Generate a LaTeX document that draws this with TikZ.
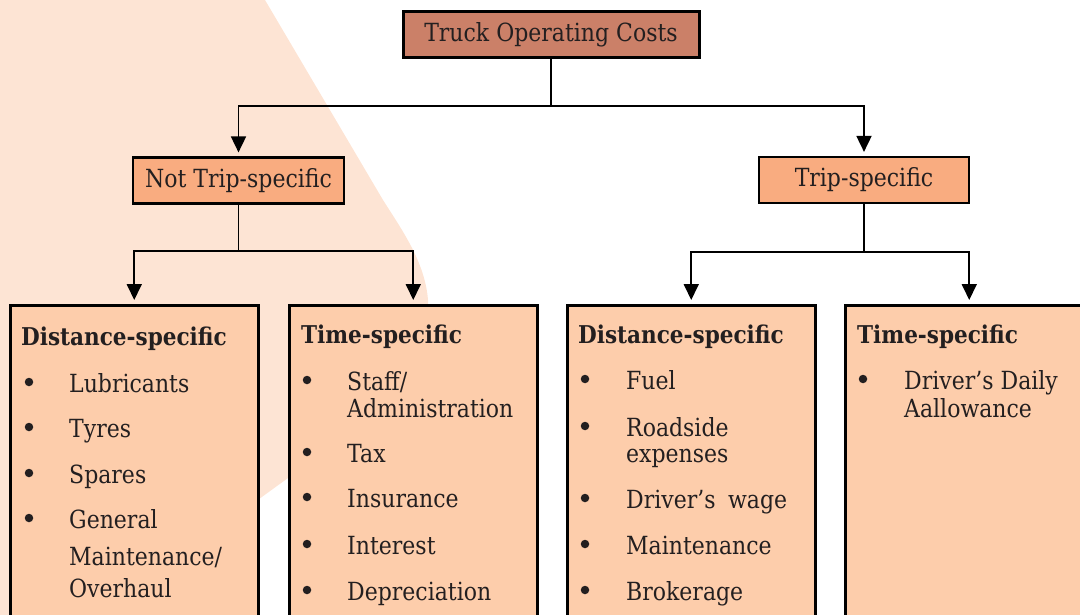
\documentclass[tikz,border=0pt]{standalone}
\usepackage{fontspec}
\setmainfont{DejaVu Serif}[FakeStretch=0.88]
\usetikzlibrary{arrows.meta}
\definecolor{bgpeach}{HTML}{FDE4D4}
\definecolor{topfill}{HTML}{CB8068}
\definecolor{midfill}{HTML}{F9AC80}
\definecolor{boxfill}{HTML}{FDCDAB}
\definecolor{ink}{HTML}{231F20}
\begin{document}
\begin{tikzpicture}[x=1pt,y=-1pt,
  conn/.style={line width=1.8pt, draw=black},
  arr/.style={conn, -{Triangle[width=15pt,length=16pt]}, shorten >=4pt},
  topbox/.style={draw=black, line width=3pt, fill=topfill, inner sep=0pt,
    minimum width=296pt, minimum height=46pt, text=ink, font=\fontsize{25}{30}\selectfont},
  midbox/.style={draw=black, line width=2.2pt, fill=midfill, inner sep=0pt,
    minimum width=210pt, minimum height=46pt, text=ink, font=\fontsize{25}{30}\selectfont},
  listbox/.style={draw=black, line width=2.5pt, fill=boxfill, inner sep=0pt,
    minimum width=248pt, minimum height=336pt, anchor=north west},
  head/.style={anchor=base west, inner sep=0pt, text=ink, font=\bfseries\fontsize{24.5}{29}\selectfont},
  item/.style={anchor=base west, inner sep=0pt, text=ink, font=\fontsize{25}{30}\selectfont},
  bul/.style={circle, fill=ink, inner sep=0pt, minimum size=8.5pt},
]
\useasboundingbox (0,0) rectangle (1080,615);
\clip (0,0) rectangle (1080,615);
% background shape
\fill[bgpeach] (0,0) -- (265,0) -- (383,200) .. controls (402,230) and (425,262) .. (428,300)
  -- (430,375) -- (0,687) -- cycle;

% boxes
\node[topbox] (top) at (551,35) {\raisebox{-3pt}{Truck Operating Costs}};
\node[midbox, minimum width=211pt] (ntp) at (238.5,180.5) {\raisebox{-3pt}{Not Trip-specific}};
\node[midbox] (tp) at (864,180) {\raisebox{-3pt}{Trip-specific}};
\node[listbox] (b1) at (9,304) {};
\node[listbox] (b2) at (288,304) {};
\node[listbox] (b3) at (566,304) {};
\node[listbox] (b4) at (844,304) {};

% connectors
\coordinate (j0) at (551,106);
\coordinate (j1) at (238.5,251);
\coordinate (j2) at (864,252);
\draw[conn] (top.south) -- (j0);
\draw[arr] (j0) -| (ntp.north);
\draw[arr] (j0) -| (tp.north);
\draw[conn] (ntp.south) -- (j1);
\draw[arr] (j1) -| (b1.north);
\draw[arr] (j1) -| (b2.north);
\draw[conn] (tp.south) -- (j2);
\draw[arr] (j2) -| (b3.north);
\draw[arr] (j2) -| (b4.north);

% box 1
\node[head] (h1) at (21,345) {Distance-specific};
\node[bul] (b1u1) at (29,382) {};
\node[item] (b1i1) at (69,392) {Lubricants};
\node[bul] (b1u2) at (29,427) {};
\node[item] (b1i2) at (69,437) {Tyres};
\node[bul] (b1u3) at (29,473) {};
\node[item] (b1i3) at (69,483) {Spares};
\node[bul] (b1u4) at (29,518) {};
\node[item] (b1i4a) at (69,528) {General};
\node[item] (b1i4b) at (69,565) {Maintenance/};
\node[item] (b1i4c) at (69,597) {Overhaul};

% box 2
\node[head] (h2) at (301,343) {Time-specific};
\node[bul] (b2u1) at (307,380) {};
\node[item] (b2i1a) at (347,390) {Staff/};
\node[item] (b2i1b) at (347,417) {Administration};
\node[bul] (b2u2) at (307,452) {};
\node[item] (b2i2) at (347,462) {Tax};
\node[bul] (b2u3) at (307,497) {};
\node[item] (b2i3) at (347,507) {Insurance};
\node[bul] (b2u4) at (307,544) {};
\node[item] (b2i4) at (347,554) {Interest};
\node[bul] (b2u5) at (307,590) {};
\node[item] (b2i5) at (347,600) {Depreciation};

% box 3
\node[head] (h3) at (578,343) {Distance-specific};
\node[bul] (b3u1) at (585,379) {};
\node[item] (b3i1) at (626,389) {Fuel};
\node[bul] (b3u2) at (585,426) {};
\node[item] (b3i2a) at (626,436) {Roadside};
\node[item] (b3i2b) at (626,462) {expenses};
\node[bul] (b3u3) at (585,498) {};
\node[item] (b3i3) at (626,508) {Driver’s\hspace{0.5em}wage};
\node[bul] (b3u4) at (585,544) {};
\node[item] (b3i4) at (626,554) {Maintenance};
\node[bul] (b3u5) at (585,590) {};
\node[item] (b3i5) at (626,600) {Brokerage};

% box 4
\node[head] (h4) at (857,343) {Time-specific};
\node[bul] (b4u1) at (863,379) {};
\node[item] (b4i1a) at (904,389) {Driver’s Daily};
\node[item] (b4i1b) at (904,417) {Aallowance};
\end{tikzpicture}
\end{document}
